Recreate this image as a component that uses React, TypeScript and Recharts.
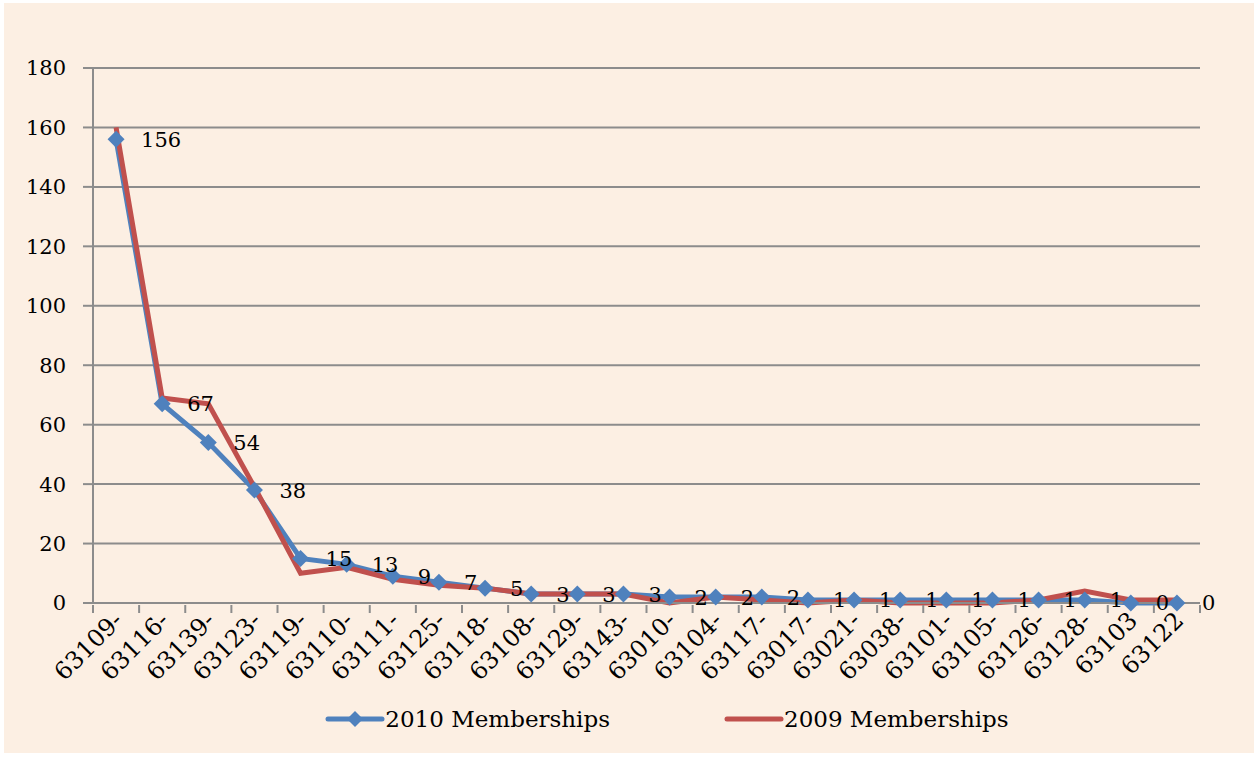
import { LineChart, Line, XAxis, YAxis, CartesianGrid, Legend, LabelList } from 'recharts';

const zipCodes = [
  '63109-', '63116-', '63139-', '63123-', '63119-', '63110-', '63111-', '63125-',
  '63118-', '63108-', '63129-', '63143-', '63010-', '63104-', '63117-', '63017-',
  '63021-', '63038-', '63101-', '63105-', '63126-', '63128-', '63103', '63122',
];
const memberships2010 = [156, 67, 54, 38, 15, 13, 9, 7, 5, 3, 3, 3, 2, 2, 2, 1, 1, 1, 1, 1, 1, 1, 0, 0];
const memberships2009 = [160, 69, 67, 39, 10, 12, 8, 6, 5, 3, 3, 3, 0, 2, 1, 0, 1, 0, 0, 0, 1, 4, 1, 1];
const yTicks = [0, 20, 40, 60, 80, 100, 120, 140, 160, 180];

const BLUE = '#4F81BD';
const RED = '#C0504D';
const GRID = '#8C8C8C';
const FONT = '"DejaVu Serif", serif';

const data = zipCodes.map((zip, i) => ({
  zip,
  m2010: memberships2010[i],
  m2009: memberships2009[i],
}));

function Diamond(props: any) {
  const { cx, cy } = props;
  if (cx == null || cy == null) return null;
  const r = 8.5;
  return <path d={`M${cx},${cy - r}L${cx + r},${cy}L${cx},${cy + r}L${cx - r},${cy}Z`} fill={BLUE} />;
}

// label plus tick marks between categories, like the Excel original
function ZipTick(props: any) {
  const { x, y, payload, index, width, visibleTicksCount } = props;
  const half = width / visibleTicksCount / 2;
  const tx = x + 8;
  const ty = y + 17;
  return (
    <g>
      <line x1={x - half} y1={y} x2={x - half} y2={y + 8} stroke={GRID} strokeWidth={2} />
      {index === visibleTicksCount - 1 && (
        <line x1={x + half} y1={y} x2={x + half} y2={y + 8} stroke={GRID} strokeWidth={2} />
      )}
      <text x={tx} y={ty} transform={`rotate(-45, ${tx}, ${ty})`} textAnchor="end" fontSize={24} fontFamily={FONT} fill="#000">
        {payload.value}
      </text>
    </g>
  );
}

function LegendBox() {
  const item = (color: string, label: string, marker: boolean) => (
    <div style={{ display: 'flex', alignItems: 'center' }}>
      <svg width={60} height={20}>
        <line x1={3} y1={10} x2={57} y2={10} stroke={color} strokeWidth={5} strokeLinecap="round" />
        {marker && <path d="M30,2L38,10L30,18L22,10Z" fill={color} />}
      </svg>
      <span style={{ fontFamily: FONT, fontSize: 23, color: '#000' }}>{label}</span>
    </div>
  );
  return (
    <div style={{ display: 'flex', justifyContent: 'center', gap: 114, paddingLeft: 130, height: 40, alignItems: 'center' }}>
      {item(BLUE, '2010 Memberships', true)}
      {item(RED, '2009 Memberships', false)}
    </div>
  );
}

export default function App() {
  return (
    <div style={{ position: 'absolute', left: 4, top: 3, width: 1250, height: 750, background: '#FCEFE3' }}>
      <LineChart width={1250} height={750} data={data} margin={{ top: 65, right: 54, left: 0, bottom: 14 }}>
        <CartesianGrid vertical={false} stroke={GRID} strokeWidth={2} />
        <XAxis
          dataKey="zip"
          scale="band"
          interval={0}
          height={96}
          tick={<ZipTick />}
          tickLine={false}
          tickSize={0}
          axisLine={{ stroke: GRID, strokeWidth: 2 }}
        />
        <YAxis
          width={89}
          domain={[0, 180]}
          ticks={yTicks}
          interval={0}
          tickSize={10}
          tickMargin={17}
          tickLine={{ stroke: GRID, strokeWidth: 2 }}
          axisLine={{ stroke: GRID, strokeWidth: 2 }}
          tick={{ fontSize: 21, fontFamily: FONT, fill: '#000' }}
        />
        <Legend verticalAlign="bottom" content={<LegendBox />} />
        <Line
          dataKey="m2010"
          name="2010 Memberships"
          stroke={BLUE}
          strokeWidth={5}
          dot={<Diamond />}
          activeDot={false}
          isAnimationActive={false}
        >
          <LabelList dataKey="m2010" position="right" offset={25} fontSize={21} fontFamily={FONT} fill="#000" />
        </Line>
        <Line
          dataKey="m2009"
          name="2009 Memberships"
          stroke={RED}
          strokeWidth={5}
          dot={false}
          activeDot={false}
          isAnimationActive={false}
        />
      </LineChart>
    </div>
  );
}
